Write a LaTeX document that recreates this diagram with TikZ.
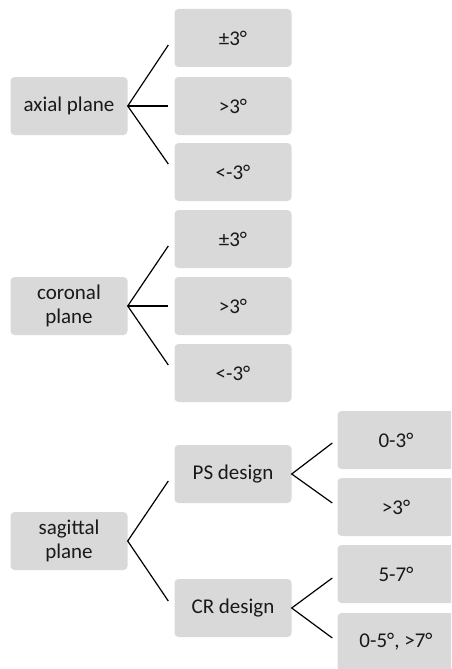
\documentclass[tikz,border=0pt]{standalone}
\usepackage{fontspec}
\setmainfont{Carlito}
\usepackage{tikz}
\usetikzlibrary{calc}

\definecolor{boxgrey}{HTML}{D9D9D9}

\tikzset{
  box/.style={fill=boxgrey, rounded corners=4pt, minimum width=117pt,
    minimum height=58pt, inner sep=2pt, align=center, text=black!90,
    font=\fontsize{21}{24}\selectfont},
  branch/.style={line width=1.2pt, black}
}

\begin{document}
\begin{tikzpicture}[x=1pt,y=-1pt]
    \clip (0,0) rectangle (451,669);

    % first column
    \node[box] (axial) at (69,106) {axial plane};
    \node[box] (coronal) at (69,306) {coronal\\plane};
    \node[box] (sagittal) at (69,541) {sagittal\\plane};

    % second column
    \node[box] (axpm) at (233,38) {±3°};
    \node[box] (axgt) at (233,106) {>3°};
    \node[box] (axlt) at (233,172) {<-3°};
    \node[box] (copm) at (233,239) {±3°};
    \node[box] (cogt) at (233,306) {>3°};
    \node[box] (colt) at (233,373) {<-3°};
    \node[box] (ps) at (233,474) {PS design};
    \node[box] (cr) at (233,608) {CR design};

    % third column
    \node[box] (psa) at (396,440) {0-3°};
    \node[box] (psb) at (396,507) {>3°};
    \node[box] (cra) at (396,574) {5-7°};
    \node[box] (crb) at (396,642) {0-5°, >7°};

    \draw[branch] ($(axpm.west)+(-6,7)$) -- (axial.east) -- ($(axlt.west)+(-6,-8)$);
    \draw[branch] (axial.east) -- ($(axgt.west)+(-6,0)$);
    \draw[branch] ($(copm.west)+(-6,7)$) -- (coronal.east) -- ($(colt.west)+(-6,-8)$);
    \draw[branch] (coronal.east) -- ($(cogt.west)+(-6,0)$);
    \draw[branch] ($(ps.west)+(-6,7)$) -- (sagittal.east) -- ($(cr.west)+(-6,-7)$);
    \draw[branch] ($(psa.west)+(-5,3)$) -- (ps.east) -- ($(psb.west)+(-5,-4)$);
    \draw[branch] ($(cra.west)+(-5,4)$) -- (cr.east) -- ($(crb.west)+(-5,-4)$);
\end{tikzpicture}
\end{document}
